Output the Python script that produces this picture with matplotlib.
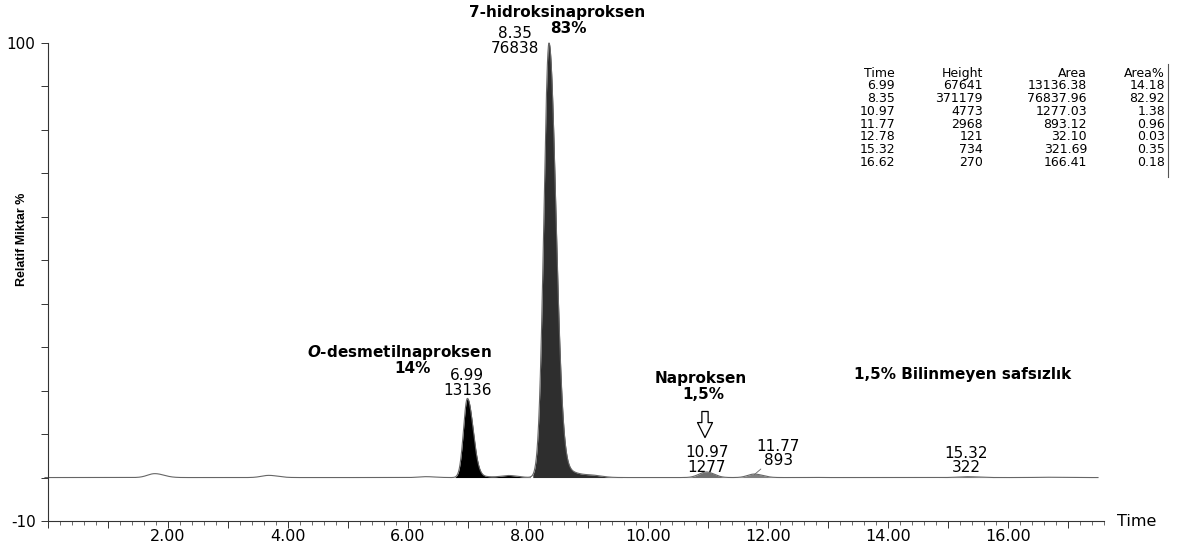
import numpy as np
import matplotlib.pyplot as plt
from matplotlib.lines import Line2D

plt.rcParams['font.family'] = ['DejaVu Sans']

# Peak table of the chromatogram
peak_times = [6.99, 8.35, 10.97, 11.77, 12.78, 15.32, 16.62]
peak_heights = [67641, 371179, 4773, 2968, 121, 734, 270]
peak_areas = [13136.38, 76837.96, 1277.03, 893.12, 32.10, 321.69, 166.41]
area_pct = [14.18, 82.92, 1.38, 0.96, 0.03, 0.35, 0.18]

# small unintegrated bumps on the baseline (time, relative %)
bump_times = [1.78, 3.68, 6.30, 7.68, 9.10]
bump_heights = [0.9, 0.5, 0.2, 0.45, 0.3]

x_ticks = list(range(0, 18))
x_tick_labels = ["", "", "2.00", "", "4.00", "", "6.00", "", "8.00", "",
                 "10.00", "", "12.00", "", "14.00", "", "16.00", ""]
y_ticks = list(range(-10, 101, 10))
y_tick_labels = ["-10", "", "", "", "", "", "", "", "", "", "", "100"]

# peak shape (left sigma, right sigma, tail fraction, tail sigma) and fill colour
shape_left = [0.065, 0.085, 0.12, 0.11, 0.08, 0.15, 0.15]
shape_right = [0.095, 0.115, 0.13, 0.14, 0.08, 0.18, 0.18]
tail_frac = [0.02, 0.025, 0.0, 0.0, 0.0, 0.0, 0.0]
tail_sigma = [0.3, 0.35, 0.1, 0.1, 0.1, 0.1, 0.1]
fill_colors = ['black', '#2e2e2e', '#707070', '#808080', None, '#606060', None]

rel_heights = np.array(peak_heights) / max(peak_heights) * 100

t = np.linspace(-0.05, 17.5, 6000)


def peak(t, rt, h, sl, sr, tf, ts):
    sig = np.where(t < rt, sl, sr)
    y = h * (1 - tf) * np.exp(-0.5 * ((t - rt) / sig) ** 2)
    y += h * tf * np.exp(-0.5 * ((t - rt) / np.where(t < rt, sl, ts)) ** 2)
    return y


signal = np.zeros_like(t)
for i, rt in enumerate(peak_times):
    signal += peak(t, rt, rel_heights[i], shape_left[i], shape_right[i],
                   tail_frac[i], tail_sigma[i])
for bt, bh in zip(bump_times, bump_heights):
    signal += peak(t, bt, bh, 0.12, 0.15, 0, 0.1)

fig = plt.figure(figsize=(11.79, 5.42), dpi=100)
ax = fig.add_axes([48 / 1179, 21 / 542, 1056 / 1179, 478 / 542])

ax.plot(t, signal, color='#666666', lw=0.8, clip_on=False)
for i, rt in enumerate(peak_times):
    if fill_colors[i] is None:
        continue
    reach = max(shape_right[i], tail_sigma[i] if tail_frac[i] > 0 else 0)
    m = (t > rt - 3.2 * shape_left[i]) & (t < rt + 3.5 * reach)
    ax.fill_between(t[m], 0, signal[m], color=fill_colors[i], lw=0)

ax.set_xlim(0, 17.6)
ax.set_ylim(-10, 100)
for s in ['top', 'right']:
    ax.spines[s].set_visible(False)
for s in ['left', 'bottom']:
    ax.spines[s].set_color('#333333')
    ax.spines[s].set_linewidth(0.8)

ax.set_xticks(x_ticks)
ax.set_xticklabels(x_tick_labels, fontsize=11.5)
ax.set_xticks(np.arange(0, 17.61, 0.2), minor=True)
ax.tick_params(axis='x', which='major', length=5, width=0.7, pad=1, color='#333333')
ax.tick_params(axis='x', which='minor', length=3, width=0.5, color='#333333')
ax.set_yticks(y_ticks)
ax.set_yticklabels(y_tick_labels, fontsize=11)
ax.tick_params(axis='y', length=5, width=0.7, pad=4, color='#333333')

ax.set_ylabel('Relatif Miktar %', fontsize=9, fontweight='bold',
              family=['Liberation Sans', 'DejaVu Sans'])
ax.yaxis.set_label_coords(-0.019, 0.59)
ax.text(1.012, 0, 'Time', transform=ax.transAxes, fontsize=11.5, va='center', ha='left')

# retention time / area labels above peaks (two lines, 3.3 units apart)
lbl = dict(fontsize=11, ha='center', va='center')
dv = 3.3
label_spots = {0: (6.99, 20.1), 1: (7.78, 98.8), 2: (10.98, 2.4), 5: (15.3, 2.2)}
for i, (lx, ly) in label_spots.items():
    ax.text(lx, ly + dv, f"{peak_times[i]:.2f}", clip_on=False, **lbl)
    ax.text(lx, ly, f"{peak_areas[i]:.0f}", clip_on=False, **lbl)
ax.text(12.17, 7.1, f"{peak_times[3]:.2f}", **lbl)
ax.annotate(f"{peak_areas[3]:.0f}", xy=(peak_times[3], rel_heights[3] * 0.8),
            xytext=(12.17, 3.9), textcoords='data', **lbl,
            arrowprops=dict(arrowstyle='-', color='#666666', lw=0.6, relpos=(0.0, 0.1),
                            shrinkA=0, shrinkB=0))

# compound names and their share of the total area
bold = dict(fontsize=11, fontweight='bold', ha='center', va='center')
ax.text(8.48, 107.0, '7-hidroksinaproksen', clip_on=False, **bold)
ax.text(8.67, 103.3, f"{area_pct[1]:.0f}%", clip_on=False, **bold)
ax.text(5.85, 28.8, r'$\mathbfit{O}$-desmetilnaproksen', **bold)
ax.text(6.08, 25.0, f"{area_pct[0]:.0f}%", **bold)
ax.text(10.88, 22.8, 'Naproksen', **bold)
ax.text(10.92, 19.2, '1,5%', **bold)
ax.text(15.25, 23.6, '1,5% Bilinmeyen safsızlık', **bold)

ax.annotate('', xy=(10.95, 9.2), xytext=(10.95, 15.2),
            arrowprops=dict(arrowstyle='simple,head_length=0.6,head_width=0.6,tail_width=0.25',
                            fc='white', ec='black', lw=0.9, mutation_scale=18,
                            shrinkA=0, shrinkB=0))

# peak table in the upper right
W, H = 1179, 542
col_right = [895, 983, 1087, 1165]
row_y0, row_dy = 73, 12.8
headers = ['Time', 'Height', 'Area', 'Area%']
for c, hdr in enumerate(headers):
    fig.text(col_right[c] / W, 1 - row_y0 / H, hdr, fontsize=9, ha='right', va='center')
for r in range(len(peak_times)):
    y = 1 - (row_y0 + (r + 1) * row_dy) / H
    vals = [f"{peak_times[r]:.2f}", f"{peak_heights[r]}", f"{peak_areas[r]:.2f}", f"{area_pct[r]:.2f}"]
    for c, v in enumerate(vals):
        fig.text(col_right[c] / W, y, v, fontsize=9, ha='right', va='center')
fig.add_artist(Line2D([1168 / W, 1168 / W], [1 - 64 / H, 1 - 177 / H], color='#555555', lw=0.8))

plt.savefig('out.png', dpi=100)
